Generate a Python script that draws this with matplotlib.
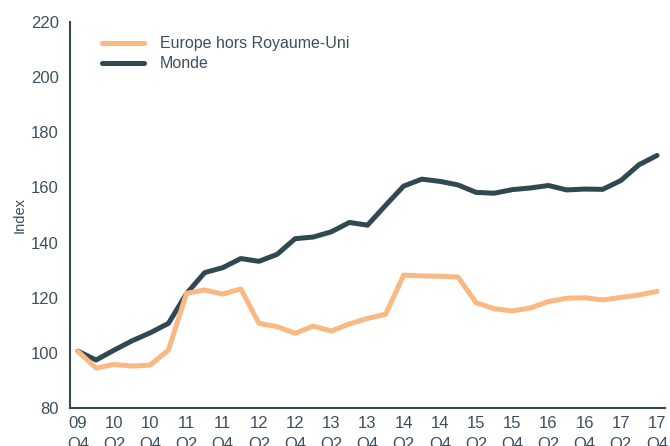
import matplotlib.pyplot as plt
import numpy as np

# quarterly index, 2009 Q4 = 100
quarters = ["09\nQ4", "10\nQ1", "10\nQ2", "10\nQ3", "10\nQ4", "11\nQ1", "11\nQ2", "11\nQ3", "11\nQ4",
            "12\nQ1", "12\nQ2", "12\nQ3", "12\nQ4", "13\nQ1", "13\nQ2", "13\nQ3", "13\nQ4",
            "14\nQ1", "14\nQ2", "14\nQ3", "14\nQ4", "15\nQ1", "15\nQ2", "15\nQ3", "15\nQ4",
            "16\nQ1", "16\nQ2", "16\nQ3", "16\nQ4", "17\nQ1", "17\nQ2", "17\nQ3", "17\nQ4"]
europe = [100.5, 94.5, 95.8, 95.2, 95.6, 101.0, 121.6, 122.8, 121.3, 123.2, 110.7, 109.5, 107.1,
          109.7, 107.9, 110.5, 112.5, 114.0, 128.2, 127.9, 127.8, 127.5, 118.2, 116.0, 115.2,
          116.3, 118.6, 119.8, 120.0, 119.2, 120.1, 121.0, 122.3]
monde = [100.6, 97.4, 101.0, 104.4, 107.3, 110.7, 121.5, 129.1, 130.9, 134.2, 133.2, 135.7, 141.4,
         142.0, 143.9, 147.3, 146.3, 153.5, 160.5, 163.0, 162.2, 160.9, 158.2, 157.9, 159.2,
         159.8, 160.7, 159.1, 159.4, 159.3, 162.5, 168.2, 171.6]

ORANGE = "#fab882"
DARK = "#2f4852"
TXT = "#3d4f5c"

plt.rcParams['font.family'] = ['Liberation Sans', 'DejaVu Sans']

fig = plt.figure(figsize=(6.7, 4.46), dpi=100)
ax = fig.add_axes([0.1045, 0.0852, 0.888, 0.8655])

x = np.arange(len(quarters))
ax.plot(x, monde, color=DARK, lw=3.6, label="Monde", solid_capstyle="round", zorder=2)
ax.plot(x, europe, color=ORANGE, lw=3.6, label="Europe hors Royaume-Uni", solid_capstyle="round", zorder=3)

ax.set_xlim(-0.44, 32.44)
ax.set_ylim(80, 220)
ax.set_yticks(range(80, 221, 20))
ax.set_xticks(x[::2])
ax.set_xticklabels(quarters[::2], linespacing=1.45)

for s in ["top", "right"]:
    ax.spines[s].set_visible(False)
for s in ["left", "bottom"]:
    ax.spines[s].set_color(DARK)
    ax.spines[s].set_linewidth(1.5)

ax.tick_params(axis="both", length=0, labelsize=12, colors=TXT)
ax.tick_params(axis="y", pad=8)
ax.tick_params(axis="x", pad=6)
ax.set_ylabel("Index", fontsize=10.5, color=TXT, labelpad=3)

handles, labels = ax.get_legend_handles_labels()
leg = ax.legend(handles[::-1], labels[::-1], loc="upper left", bbox_to_anchor=(0.03, 1.0),
                frameon=False, fontsize=11.5, handlelength=2.6, handletextpad=1.0,
                labelspacing=0.3, labelcolor=TXT)

fig.savefig("out.png", dpi=100)
